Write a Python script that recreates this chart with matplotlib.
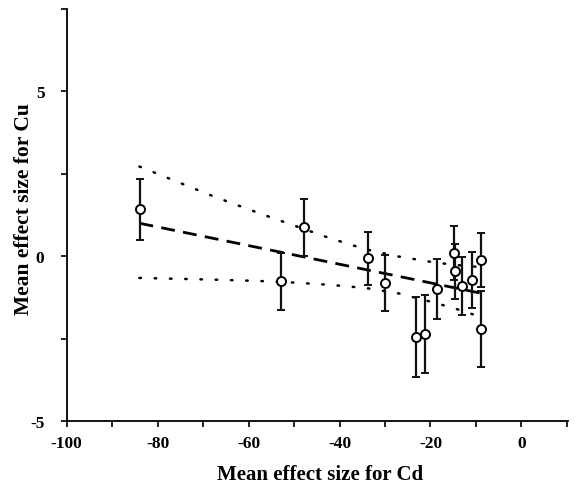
import numpy as np
import matplotlib
matplotlib.use("Agg")
import matplotlib.pyplot as plt
from matplotlib.ticker import MultipleLocator

# mean effect sizes
cd = [-83.9, -52.9, -47.8, -33.8, -30.1, -23.2, -21.1, -18.5, -14.9, -14.6, -13.0, -10.9, -9.0, -9.0]
cu = [1.42, -0.76, 0.88, -0.06, -0.82, -2.45, -2.36, -1.00, 0.09, -0.46, -0.91, -0.72, -0.11, -2.21]
cu_err = [0.92, 0.86, 0.86, 0.80, 0.85, 1.20, 1.18, 0.90, 0.82, 0.84, 0.88, 0.85, 0.82, 1.14]

# regression line and its confidence band
fit_x = [-84, -9]
fit_y = [1.0, -1.12]
band_x = [-84, -68, -58, -50, -42, -34, -27, -20, -15, -9]
band_upper = [2.72, 1.83, 1.32, 0.93, 0.54, 0.20, -0.01, -0.17, -0.26, -0.33]
band_lower = [-0.66, -0.71, -0.75, -0.80, -0.87, -0.97, -1.13, -1.38, -1.57, -1.84]

plt.rcParams['font.family'] = ['Liberation Serif', 'DejaVu Serif']
plt.rcParams['font.weight'] = 'bold'
plt.rcParams['axes.unicode_minus'] = False

fig = plt.figure(figsize=(5.78, 4.85), dpi=100)
ax = fig.add_axes([0.1154, 0.1299, 0.867, 0.8495])

ax.plot(band_x, band_upper, color='black', lw=1.8, ls=(0, (0.6, 5.5)),
        dash_capstyle='round')
ax.plot(band_x, band_lower, color='black', lw=1.8, ls=(0, (0.6, 5.5)),
        dash_capstyle='round')
ax.plot(fit_x, fit_y, color='black', lw=2, ls=(0, (5, 3)))

ax.errorbar(cd, cu, yerr=cu_err, fmt='o', color='black', ecolor='#111111',
            elinewidth=1.6, capsize=3.2, capthick=1.6, markersize=6.5,
            markerfacecolor='white', markeredgecolor='black',
            markeredgewidth=1.4, zorder=3)

ax.set_xlim(-100, 10.2)
ax.set_ylim(-5, 7.5)
ax.xaxis.set_major_locator(MultipleLocator(20))
ax.xaxis.set_minor_locator(MultipleLocator(10))
ax.yaxis.set_major_locator(MultipleLocator(5))
ax.yaxis.set_minor_locator(MultipleLocator(2.5))

ax.spines['top'].set_visible(False)
ax.spines['right'].set_visible(False)
for s in ('left', 'bottom'):
    ax.spines[s].set_linewidth(1.3)

ax.tick_params(axis='both', which='both', direction='out', length=4, width=1.2)
ax.tick_params(axis='x', which='major', labelsize=12.5, pad=6)
ax.tick_params(axis='y', which='major', labelsize=12.5, pad=12)
for lab in ax.get_xticklabels() + ax.get_yticklabels():
    lab.set_fontweight('bold')

ax.set_xlabel('Mean effect size for Cd', fontsize=15, fontweight='bold')
ax.set_ylabel('Mean effect size for Cu', fontsize=15.5, fontweight='bold')
ax.xaxis.set_label_coords(0.505, -0.105)
ax.yaxis.set_label_coords(-0.066, 0.517)

fig.savefig('out.png', dpi=100)
